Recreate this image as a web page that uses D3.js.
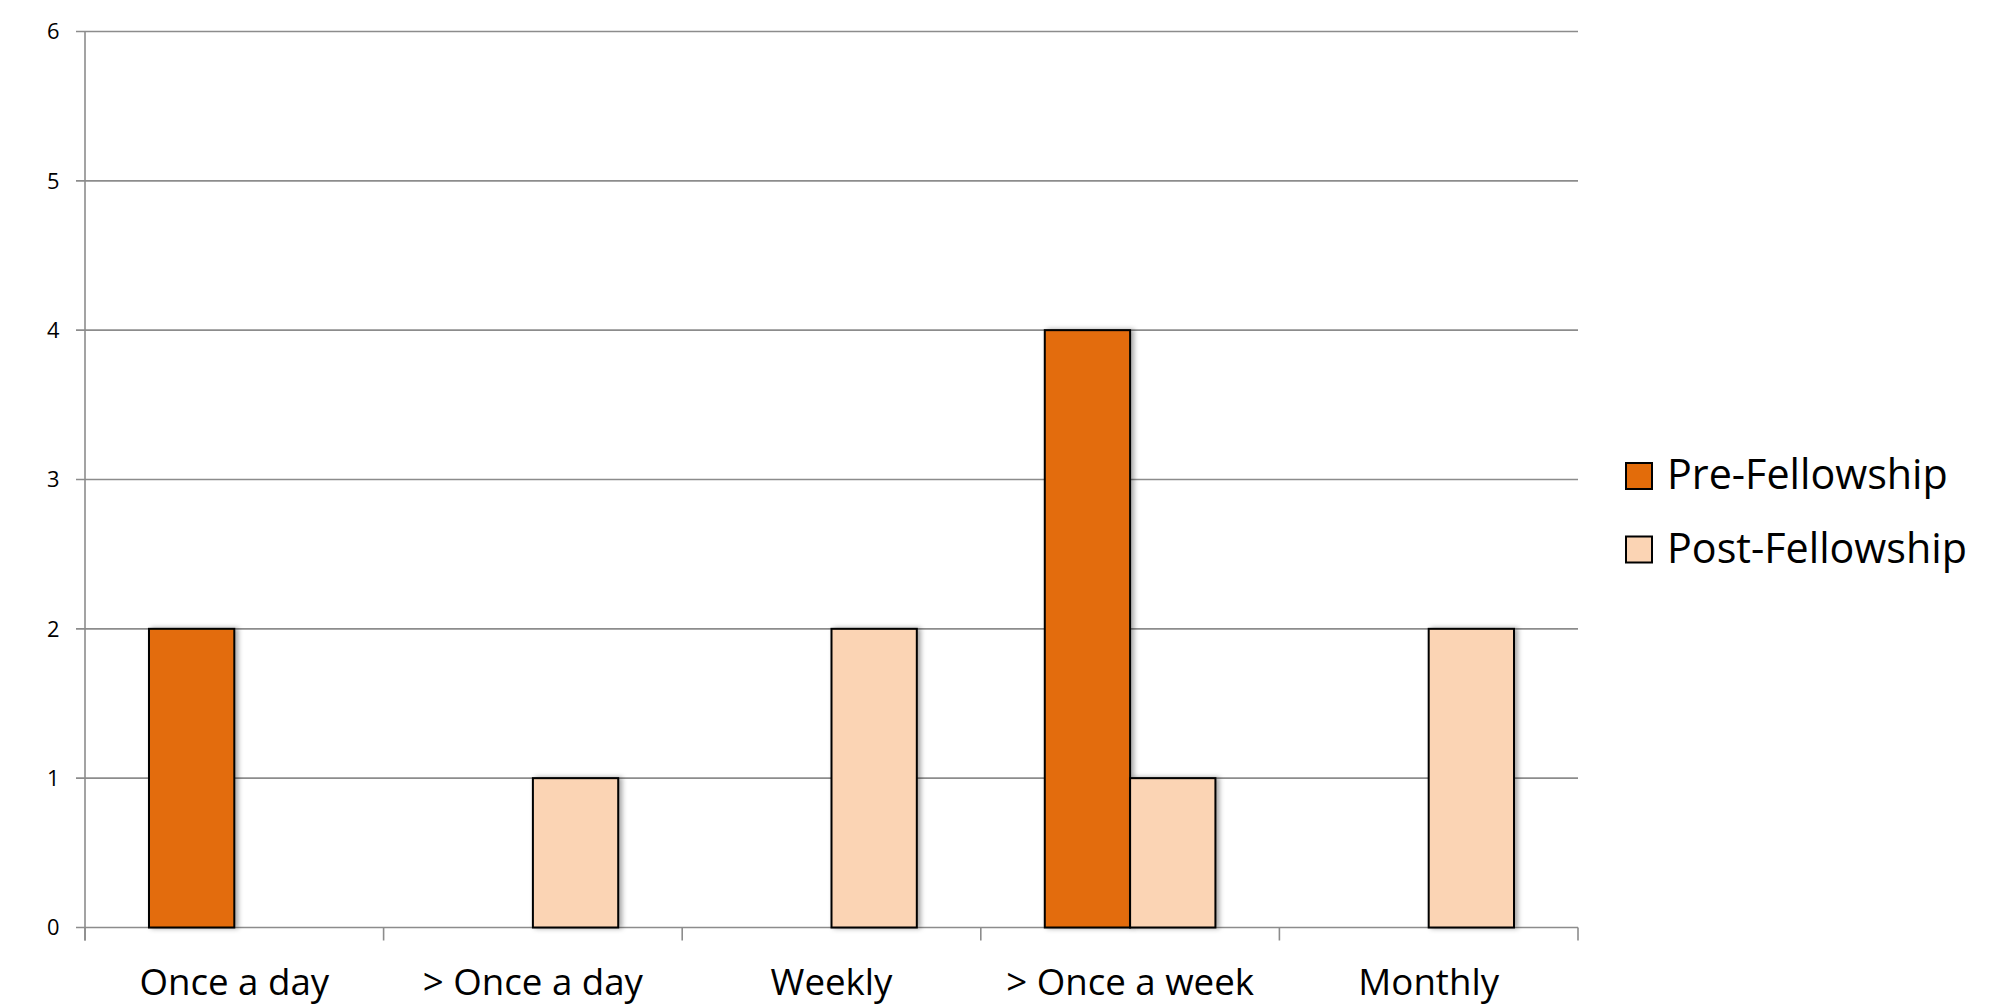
<!DOCTYPE html>
<html><head><meta charset="utf-8">
<script src="https://cdn.jsdelivr.net/npm/d3@7"></script>
<style>body{margin:0;background:#fff}svg{display:block}text{font-family:"Open Sans",sans-serif;fill:#000}</style>
</head><body><svg id="c" width="2015" height="1005"></svg>
<script>
const categories = ["Once a day", "> Once a day", "Weekly", "> Once a week", "Monthly"];
const seriesNames = ["Pre-Fellowship", "Post-Fellowship"];
const preValues = [2, 0, 0, 4, 0];
const postValues = [0, 1, 2, 1, 2];
const yTicks = [0, 1, 2, 3, 4, 5, 6];
const colors = ["#E36C0A", "#FBD4B4"];

const svg = d3.select("#c");
const L = 85, R = 1578, T = 31.5, B = 927.5;
const x = d3.scaleBand().domain(categories).range([L, R]).paddingInner(0).paddingOuter(0);
const y = d3.scaleLinear().domain([0, 6]).range([B, T]);
const bw = x.bandwidth() / 3.5;
const x1 = d3.scaleBand().domain(seriesNames).range([0, 2 * bw]);

function fit(sel, refText, target) {
  const t = svg.append("text").attr("font-size", 100).text(refText);
  const w = t.node().getComputedTextLength();
  t.remove();
  sel.attr("font-size", 100 * target / w);
}

const defs = svg.append("defs");
const f = defs.append("filter").attr("id","sh").attr("x","-20%").attr("y","-5%").attr("width","150%").attr("height","110%");
f.append("feDropShadow").attr("dx",3).attr("dy",0).attr("stdDeviation",2.5).attr("flood-color","#000").attr("flood-opacity",0.35);

// gridlines
svg.append("g").selectAll("line").data(yTicks).join("line")
  .attr("x1", L - 9).attr("x2", R).attr("y1", d => y(d)).attr("y2", d => y(d))
  .attr("stroke", "#8c8c8c").attr("stroke-width", 1.6);

// y axis
svg.append("line").attr("x1", L).attr("x2", L).attr("y1", T).attr("y2", B + 13)
  .attr("stroke", "#8c8c8c").attr("stroke-width", 1.6);
const yl = svg.append("g").selectAll("text").data(yTicks).join("text")
  .attr("x", 59.5).attr("y", d => y(d)).attr("text-anchor", "end").attr("dy", "0.36em")
  .text(d => d);
fit(yl, "0", 12.5);

// x ticks at boundaries
const bounds = categories.map(c => x(c)).concat([R]);
svg.append("g").selectAll("line").data(bounds).join("line")
  .attr("x1", d => d).attr("x2", d => d).attr("y1", B).attr("y2", B + 13)
  .attr("stroke", "#8c8c8c").attr("stroke-width", 1.6);

// bars
const data = [];
categories.forEach((c, i) => {
  data.push({c, s: seriesNames[0], v: preValues[i], col: colors[0]});
  data.push({c, s: seriesNames[1], v: postValues[i], col: colors[1]});
});
svg.append("g").selectAll("rect").data(data.filter(d => d.v > 0)).join("rect")
  .attr("x", d => x(d.c) + x.bandwidth() / 2 - bw + x1(d.s))
  .attr("width", bw)
  .attr("y", d => y(d.v)).attr("height", d => y(0) - y(d.v))
  .attr("fill", d => d.col).attr("stroke", "#000").attr("stroke-width", 2)
  .attr("filter", "url(#sh)");

// x labels
const xl = svg.append("g").selectAll("text").data(categories).join("text")
  .attr("x", d => x(d) + x.bandwidth() / 2).attr("y", 995)
  .attr("text-anchor", "middle").text(d => d);
fit(xl, "> Once a week", 248);

// legend
const lg = svg.append("g").selectAll("g").data(seriesNames).join("g")
  .attr("transform", (d, i) => `translate(1626, ${463 + i * 73.5})`);
lg.append("rect").attr("width", 26).attr("height", 26)
  .attr("fill", (d, i) => colors[i]).attr("stroke", "#000").attr("stroke-width", 2);
const lt = lg.append("text").attr("x", 41).attr("y", 26).text(d => d);
fit(lt, "Post-Fellowship", 300);
</script></body></html>
